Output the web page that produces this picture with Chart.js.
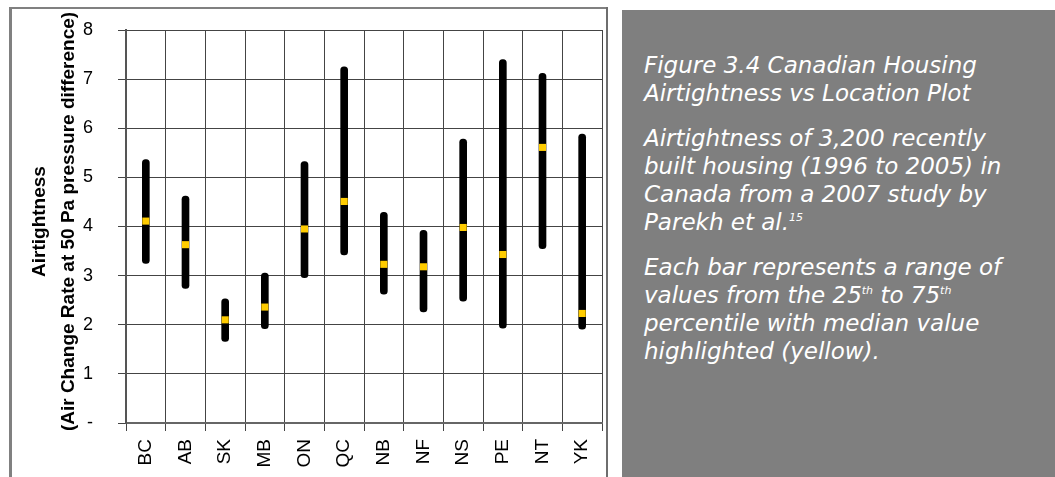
<!DOCTYPE html>
<html>
<head>
<meta charset="utf-8">
<script src="https://cdn.jsdelivr.net/npm/chart.js@4/dist/chart.umd.min.js"></script>
<style>
  body { margin: 0; background: #fff; width: 1055px; height: 477px; overflow: hidden; position: relative; }
  #frame { position: absolute; left: 9px; top: 7px; width: 598px; height: 470px; border-left: 3px solid #808080; border-top: 2px solid #808080; box-sizing: border-box; }
  #rightline { position: absolute; left: 606px; top: 7px; width: 2px; height: 470px; background: #6e6e6e; }
  #wrap { position: absolute; left: 0; top: 0; width: 607px; height: 477px; overflow: hidden; }
  #panel { position: absolute; left: 622px; top: 10px; right: 0; bottom: 0; background: #7f7f7f; }
  #panel p { margin: 0 0 17px 0; padding: 0; color: #fff; font-family: "DejaVu Sans", sans-serif; font-style: italic; font-size: 23px; line-height: 28px; }
  #panel .txt { position: absolute; left: 22px; top: 41px; width: 430px; }
  sup { font-size: 11px; line-height: 0; vertical-align: 9px; }
</style>
</head>
<body>
<div id="frame"></div>
<div id="wrap"><canvas id="myChart" width="607" height="477"></canvas></div>
<div id="rightline"></div>
<div id="panel">
  <div class="txt">
    <p>Figure 3.4 Canadian Housing<br>Airtightness vs Location Plot</p>
    <p>Airtightness of 3,200 recently<br>built housing (1996 to 2005) in<br>Canada from a 2007 study by<br>Parekh et al.<sup>15</sup></p>
    <p>Each bar represents a range of<br>values from the 25<sup>th</sup> to 75<sup>th</sup><br>percentile with median value<br>highlighted (yellow).</p>
  </div>
</div>
<script>
var provinces = ["BC", "AB", "SK", "MB", "ON", "QC", "NB", "NF", "NS", "PE", "NT", "YK"]
var p25 = [3.25, 2.74, 1.66, 1.92, 2.96, 3.42, 2.62, 2.26, 2.48, 1.93, 3.55, 1.91]
var p75 = [5.36, 4.62, 2.53, 3.05, 5.32, 7.25, 4.29, 3.92, 5.78, 7.40, 7.12, 5.88]
var medians = [4.11, 3.63, 2.10, 2.36, 3.95, 4.51, 3.23, 3.18, 3.98, 3.43, 5.61, 2.23]
var yTitle = ["Airtightness", "(Air Change Rate at 50 Pa pressure difference)"]

var gridColor = "#444"

// y axis title drawn by hand so both lines sit where the original puts them
var yTitlePlugin = {
    id: "yTitle",
    afterDraw: function (chart) {
        var ctx = chart.ctx
        var mid = (chart.chartArea.top + chart.chartArea.bottom) / 2 - 5
        ctx.save()
        ctx.fillStyle = "#000"
        ctx.font = "bold 19px 'Liberation Sans', Arial, sans-serif"
        ctx.textAlign = "center"
        ctx.textBaseline = "middle"
        var xs = [40, 69]
        for (let i = 0; i < yTitle.length; i++) {
            ctx.save()
            ctx.translate(xs[i], mid)
            ctx.rotate(-Math.PI / 2)
            ctx.fillText(yTitle[i], 0, 0)
            ctx.restore()
        }
        ctx.restore()
    }
}

function makeChart() {
    var ranges = []
    for (let i = 0; i < provinces.length; i++) {
        ranges.push([p25[i], p75[i]])
    }
    var ctx = document.getElementById("myChart")
    var myChart = new Chart(ctx, {
        type: "bar",
        data: {
            labels: provinces,
            datasets: [
                {
                    type: "line",
                    label: "Median",
                    data: medians,
                    showLine: false,
                    pointStyle: "rect",
                    pointRadius: 5,
                    pointHoverRadius: 5,
                    pointBackgroundColor: "#FFCC00",
                    pointBorderColor: "#FFCC00",
                    pointBorderWidth: 0,
                    order: 0
                },
                {
                    label: "25th to 75th percentile",
                    data: ranges,
                    backgroundColor: "#000",
                    barThickness: 7,
                    borderRadius: 4,
                    borderSkipped: false,
                    grouped: false,
                    order: 1
                }
            ]
        },
        options: {
            responsive: false,
            animation: false,
            layout: { padding: { top: 30, right: 0, left: 0, bottom: 0 } },
            plugins: {
                legend: { display: false },
                tooltip: { enabled: false }
            },
            scales: {
                x: {
                    offset: true,
                    afterFit: function (scale) {
                        scale.height = 54
                        scale.paddingLeft = 0
                        scale.paddingRight = 0
                    },
                    grid: { offset: true, color: gridColor, lineWidth: 1, tickLength: 8 },
                    border: { color: "#666", width: 2 },
                    ticks: {
                        maxRotation: 90,
                        minRotation: 90,
                        padding: 8,
                        color: "#000",
                        font: { family: "'Liberation Sans', Arial, sans-serif", size: 19 }
                    }
                },
                y: {
                    min: 0,
                    max: 8,
                    afterFit: function (scale) {
                        scale.width = 126
                        scale.paddingTop = 0
                        scale.paddingBottom = 0
                    },
                    grid: { color: gridColor, lineWidth: 1, tickLength: 8 },
                    border: { color: "#555", width: 2 },
                    ticks: {
                        stepSize: 1,
                        padding: 25,
                        color: "#000",
                        font: { family: "'Liberation Sans', Arial, sans-serif", size: 18 },
                        callback: function (value) { return value === 0 ? "-" : value }
                    }
                }
            }
        },
        plugins: [yTitlePlugin]
    })
}

makeChart()
</script>
</body>
</html>
